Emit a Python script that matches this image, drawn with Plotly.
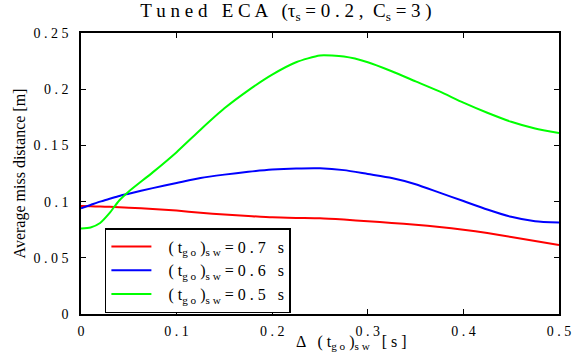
import plotly.graph_objects as go

x = [0, 0.01, 0.02, 0.03, 0.04, 0.05, 0.075, 0.1, 0.125, 0.15, 0.175, 0.2, 0.225,
     0.25, 0.275, 0.3, 0.325, 0.35, 0.375, 0.4, 0.425, 0.45, 0.475, 0.5]
red = [0.096, 0.0958, 0.0956, 0.0954, 0.095, 0.0946, 0.0935, 0.092, 0.090, 0.0885,
       0.0872, 0.086, 0.0855, 0.0852, 0.084, 0.0825, 0.081, 0.0795, 0.0775, 0.075,
       0.072, 0.0685, 0.065, 0.0614]
blue = [0.094, 0.097, 0.100, 0.1025, 0.105, 0.107, 0.112, 0.1165, 0.121, 0.124,
        0.1265, 0.1285, 0.1295, 0.1297, 0.128, 0.1245, 0.121, 0.1155, 0.108, 0.1005,
        0.093, 0.0865, 0.0825, 0.0813]
green = [0.076, 0.077, 0.081, 0.090, 0.101, 0.109, 0.126, 0.144, 0.164, 0.183,
         0.199, 0.213, 0.224, 0.230, 0.229, 0.224, 0.216, 0.207, 0.198, 0.188,
         0.179, 0.171, 0.165, 0.161]

names = ["   ( t<sub>g o</sub> )<sub>s w</sub> = 0 . 7   s",
         "   ( t<sub>g o</sub> )<sub>s w</sub> = 0 . 6   s",
         "   ( t<sub>g o</sub> )<sub>s w</sub> = 0 . 5   s"]
colors = ["#ff0000", "#0000ff", "#00ff00"]
series = [red, blue, green]

xticks = [0, 0.1, 0.2, 0.3, 0.4, 0.5]
xticktext = ["0", "0 . 1", "0 . 2", "0 . 3", "0 . 4", "0 . 5"]
yticks = [0, 0.05, 0.1, 0.15, 0.2, 0.25]
yticktext = ["0", "0 . 0 5", "0 . 1", "0 . 1 5", "0 . 2", "0 . 2 5"]

FONT = "Liberation Serif"

fig = go.Figure()
for ys, nm, c in zip(series, names, colors):
    fig.add_trace(go.Scatter(x=x, y=ys, mode="lines", name=nm,
                             line=dict(color=c, width=2, shape="spline", smoothing=0.6)))

axis_common = dict(showline=True, linecolor="black", linewidth=1.5, mirror="ticks",
                   ticks="inside", ticklen=5, tickcolor="black", showgrid=False,
                   zeroline=False, automargin=False,
                   tickfont=dict(family=FONT, size=14, color="black"))

fig.update_layout(
    width=572, height=352,
    margin=dict(l=81, r=13, t=33, b=38),
    paper_bgcolor="white", plot_bgcolor="white",
    font=dict(family=FONT, color="black"),
    title=dict(text="T u n e d   E C A   (τ<sub>s</sub> = 0 . 2 ,  C<sub>s</sub> = 3 )",
               x=0.5, xref="container", xanchor="center",
               y=0.99, yref="container", yanchor="top",
               font=dict(family=FONT, size=19, color="black")),
    xaxis=dict(range=[0, 0.5], tickvals=xticks, ticktext=xticktext,
               ticklabelstandoff=3, **axis_common),
    yaxis=dict(range=[0, 0.25], tickvals=yticks, ticktext=yticktext,
               ticklabelstandoff=8,
               title=dict(text="Average miss distance [m]", standoff=4,
                          font=dict(family=FONT, size=16, color="black")),
               **axis_common),
    legend=dict(x=0.05, y=0.306, xanchor="left", yanchor="top",
                bordercolor="black", borderwidth=1.5, bgcolor="white",
                font=dict(family=FONT, size=16, color="black"),
                tracegroupgap=0, itemwidth=40),
    showlegend=True,
)

fig.add_annotation(text="Δ   ( t<sub>g o</sub> )<sub>s w</sub>   [ s ]", xref="paper", yref="paper",
                   x=0.565, y=-0.06, xanchor="center", yanchor="top", showarrow=False,
                   font=dict(family=FONT, size=16, color="black"))

fig.write_html("out.html")
